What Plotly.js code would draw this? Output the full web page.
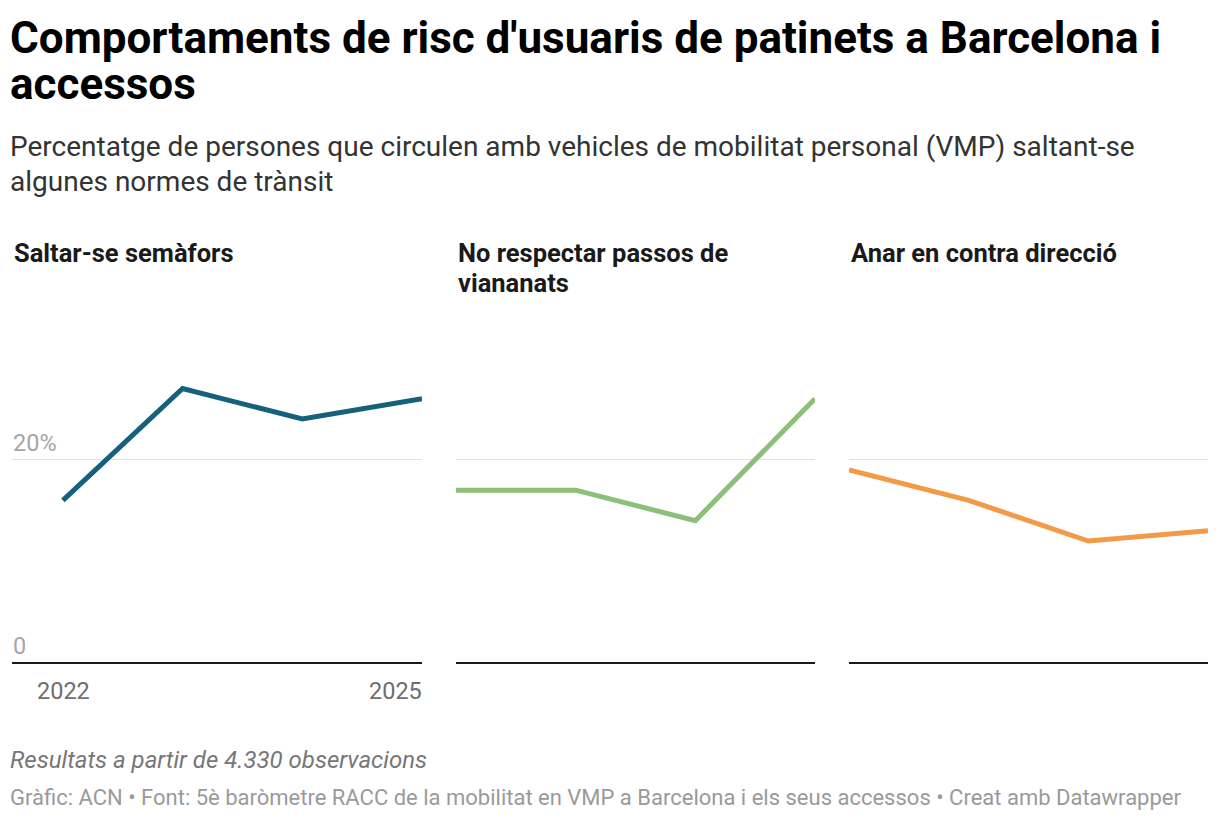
<!DOCTYPE html>
<html>
<head>
<meta charset="utf-8">
<script src="https://cdn.plot.ly/plotly-3.0.1.min.js"></script>
<style>html,body{margin:0;padding:0;background:#fff;}</style>
</head>
<body>
<div id="chart" style="width:1220px;height:820px;"></div>
<script>
const years = [2022, 2023, 2024, 2025];
const panelTitleLines = [["Saltar-se semàfors"], ["No respectar passos de", "viananats"], ["Anar en contra direcció"]];
const semafors = [16, 27, 24, 26];
const passos = [17, 17, 14, 26];
const contraDireccio = [19, 16, 12, 13];
const colors = ["#15607a", "#8cbf79", "#f39a47"];
const yTickVals = [0, 20];
const yTickText = ["0", "20%"];
const xTickVals = [2022, 2025];
const titleLines = ["Comportaments de risc d'usuaris de patinets a Barcelona i", "accessos"];
const subtitleLines = ["Percentatge de persones que circulen amb vehicles de mobilitat personal (VMP) saltant-se", "algunes normes de trànsit"];
const noteText = "Resultats a partir de 4.330 observacions";
const footerText = "Gràfic: ACN • Font: 5è baròmetre RACC de la mobilitat en VMP a Barcelona i els seus accessos • Creat amb Datawrapper";

const series = [semafors, passos, contraDireccio];
const W = 1220, H = 820;
const px = v => v / W;
const py = v => 1 - v / H;
const FONT = 'Roboto, sans-serif';

const domains = [[12, 422], [456, 815], [849, 1208]];
const yDom = [py(663), py(358)];

const traces = series.map((s, i) => ({
  x: years, y: s, type: 'scatter', mode: 'lines',
  line: {color: colors[i], width: 5, shape: 'linear'},
  xaxis: i === 0 ? 'x' : 'x' + (i + 1),
  yaxis: i === 0 ? 'y' : 'y' + (i + 1),
  hoverinfo: 'skip', showlegend: false
}));

const layout = {
  width: W, height: H,
  margin: {l: 0, r: 0, t: 0, b: 0},
  paper_bgcolor: '#fff', plot_bgcolor: '#fff',
  font: {family: FONT, color: '#333'},
  annotations: [],
  showlegend: false
};

function txt(text, x, y, size, color, opts) {
  layout.annotations.push(Object.assign({
    text: text, xref: 'paper', yref: 'paper', x: px(x), y: py(y),
    xanchor: 'left', yanchor: 'middle', align: 'left', showarrow: false,
    font: {family: FONT, size: size, color: color}
  }, opts || {}));
}

for (let i = 0; i < 3; i++) {
  const sfx = i === 0 ? '' : String(i + 1);
  layout['xaxis' + sfx] = {
    domain: [px(domains[i][0]), px(domains[i][1])],
    range: i === 0 ? [2022 - 51 / 120, 2025] : [2022, 2025],
    showgrid: false, zeroline: false, showticklabels: false, ticks: '',
    showline: false, fixedrange: true, anchor: 'y' + sfx
  };
  layout['yaxis' + sfx] = {
    domain: yDom, range: [0, 30],
    tickvals: yTickVals, showticklabels: false, ticks: '',
    showgrid: true, gridcolor: '#e3e3e3', gridwidth: 1.5,
    zeroline: true, zerolinecolor: '#1a1a1a', zerolinewidth: 2,
    showline: false, fixedrange: true, anchor: 'x' + sfx
  };
  panelTitleLines[i].forEach((ln, k) => {
    txt('<b>' + ln + '</b>', domains[i][0], 253 + 30 * k, 25.5, '#1a1a1a');
  });
}

// y tick labels (panel 1)
yTickVals.forEach((v, k) => {
  layout.annotations.push({
    text: yTickText[k], xref: 'paper', yref: 'y',
    x: px(11), y: v, xanchor: 'left', yanchor: 'bottom', yshift: 1,
    showarrow: false,
    font: {family: FONT, size: 23.5, color: '#a6a6a6'}
  });
});
// x tick labels (panel 1)
xTickVals.forEach((v, k) => {
  layout.annotations.push({
    text: String(v), xref: 'x', yref: 'paper',
    x: v, y: py(691), xanchor: k === 0 ? 'center' : 'right', yanchor: 'middle',
    xshift: k === 0 ? 1 : 2,
    showarrow: false,
    font: {family: FONT, size: 23.5, color: '#6e6e6e'}
  });
});

titleLines.forEach((ln, k) => txt('<b>' + ln + '</b>', 8, 38 + 46 * k, 44, '#000'));
subtitleLines.forEach((ln, k) => txt(ln, 8, 147 + 35 * k, 28, '#333'));
txt('<i>' + noteText + '</i>', 8, 760, 24, '#777');
txt(footerText, 8, 797, 22, '#9a9a9a');

Plotly.newPlot('chart', traces, layout, {displayModeBar: false, staticPlot: true});
</script>
</body>
</html>
